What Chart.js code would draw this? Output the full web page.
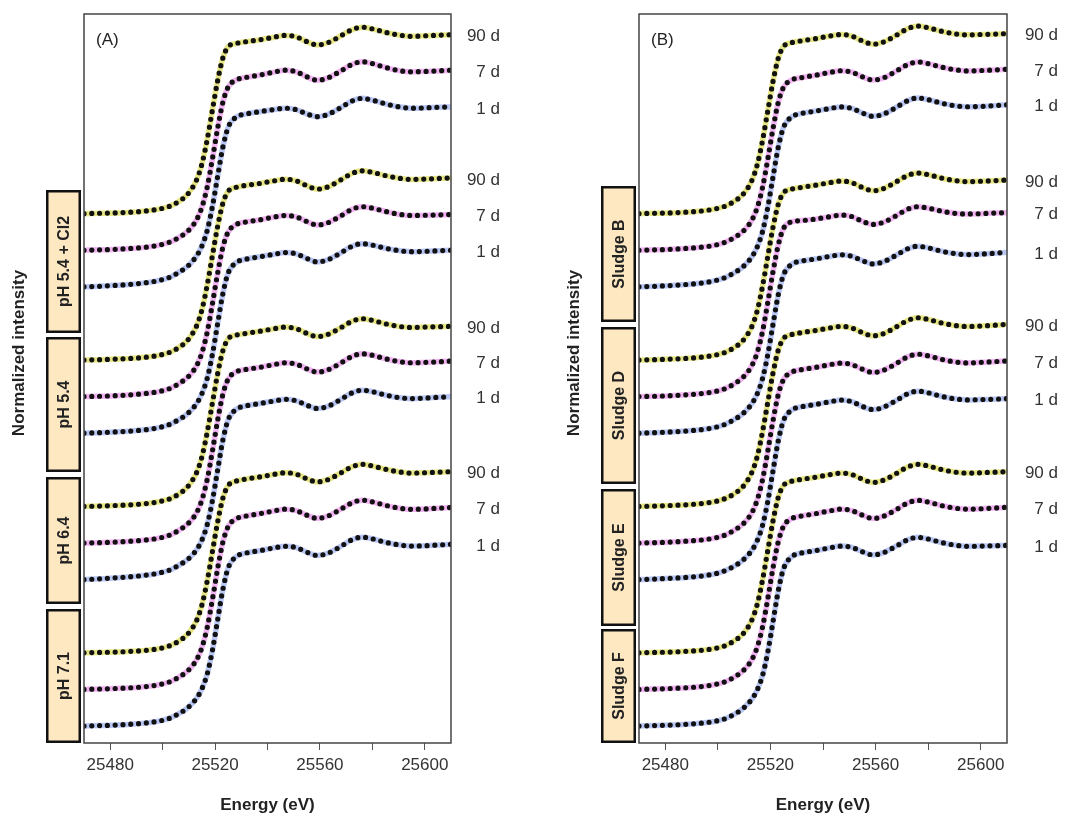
<!DOCTYPE html>
<html>
<head>
<meta charset="utf-8">
<script src="https://cdn.jsdelivr.net/npm/chart.js@4.4.1/dist/chart.umd.min.js"></script>
<style>
  html, body { margin: 0; padding: 0; background: #fff; }
  #wrap { position: relative; width: 1077px; height: 816px; }
  canvas { position: absolute; top: 0; }
  #chartA { left: 0; }
  #chartB { left: 540px; }
</style>
</head>
<body>
<div id="wrap">
  <canvas id="chartA" width="540" height="816"></canvas>
  <canvas id="chartB" width="537" height="816"></canvas>
</div>
<script>
// energy grid (eV) shared by all spectra
const energy = [25470, 25476, 25482, 25488, 25494, 25499, 25503, 25506, 25509, 25511,
  25513, 25515, 25517, 25519, 25521, 25523, 25525, 25528, 25532, 25537,
  25542, 25547, 25551, 25555, 25559, 25563, 25568, 25572, 25576, 25580,
  25585, 25590, 25595, 25600, 25605, 25610];
const xTicks = [25480, 25500, 25520, 25540, 25560, 25580, 25600];
const dayLabels = ['90 d', '7 d', '1 d'];
const groupsA = ['pH 5.4 + Cl2', 'pH 5.4', 'pH 6.4', 'pH 7.1'];
const groupsB = ['Sludge B', 'Sludge D', 'Sludge E', 'Sludge F'];
// vertical stacking of the 12 spectra (top to bottom)
const stackOffsets = [2.8, 2.6, 2.4, 2.0, 1.8, 1.6, 1.2, 1.0, 0.8, 0.4, 0.2, 0.0];

// panel A - normalized intensity
const a1d90 = [0.000, 0.002, 0.004, 0.008, 0.015, 0.026, 0.042, 0.065, 0.098, 0.134, 0.186, 0.272, 0.405, 0.568, 0.728, 0.852, 0.912, 0.930, 0.940, 0.950, 0.963, 0.974, 0.966, 0.940, 0.922, 0.934, 0.972, 1.004, 1.019, 1.010, 0.991, 0.976, 0.969, 0.972, 0.975, 0.978];
const a1d7  = [0.000, 0.002, 0.005, 0.010, 0.017, 0.029, 0.046, 0.068, 0.097, 0.126, 0.168, 0.236, 0.345, 0.500, 0.668, 0.810, 0.892, 0.930, 0.945, 0.957, 0.972, 0.984, 0.975, 0.948, 0.929, 0.942, 0.980, 1.014, 1.030, 1.020, 0.999, 0.982, 0.975, 0.977, 0.980, 0.984];
const a1d1  = [0.000, 0.003, 0.008, 0.014, 0.023, 0.036, 0.054, 0.078, 0.106, 0.134, 0.170, 0.224, 0.308, 0.440, 0.605, 0.765, 0.872, 0.927, 0.945, 0.957, 0.968, 0.976, 0.968, 0.945, 0.930, 0.942, 0.980, 1.014, 1.030, 1.020, 1.000, 0.984, 0.976, 0.978, 0.981, 0.983];
const a2d90 = [0.000, 0.002, 0.005, 0.009, 0.016, 0.027, 0.044, 0.067, 0.100, 0.136, 0.188, 0.275, 0.410, 0.572, 0.732, 0.858, 0.922, 0.944, 0.955, 0.965, 0.978, 0.988, 0.979, 0.953, 0.934, 0.946, 0.985, 1.018, 1.034, 1.026, 1.008, 0.994, 0.987, 0.989, 0.992, 0.995];
const a2d7  = [0.000, 0.002, 0.005, 0.010, 0.018, 0.029, 0.046, 0.069, 0.099, 0.128, 0.170, 0.240, 0.352, 0.508, 0.676, 0.818, 0.900, 0.940, 0.955, 0.966, 0.980, 0.990, 0.982, 0.957, 0.938, 0.950, 0.988, 1.022, 1.038, 1.030, 1.012, 0.997, 0.990, 0.991, 0.993, 0.995];
const a2d1  = [0.000, 0.003, 0.007, 0.012, 0.020, 0.032, 0.050, 0.073, 0.101, 0.128, 0.163, 0.217, 0.300, 0.432, 0.600, 0.764, 0.876, 0.932, 0.952, 0.964, 0.977, 0.987, 0.980, 0.955, 0.936, 0.948, 0.986, 1.020, 1.036, 1.028, 1.011, 0.998, 0.992, 0.994, 0.997, 1.000];
const a3d90 = [0.000, 0.002, 0.005, 0.009, 0.016, 0.027, 0.043, 0.066, 0.099, 0.135, 0.186, 0.272, 0.405, 0.566, 0.726, 0.852, 0.916, 0.936, 0.946, 0.957, 0.970, 0.980, 0.971, 0.946, 0.928, 0.940, 0.977, 1.010, 1.026, 1.017, 0.998, 0.984, 0.978, 0.980, 0.982, 0.984];
const a3d7  = [0.000, 0.002, 0.005, 0.010, 0.017, 0.028, 0.045, 0.068, 0.097, 0.126, 0.167, 0.236, 0.347, 0.503, 0.672, 0.814, 0.896, 0.935, 0.949, 0.960, 0.974, 0.985, 0.977, 0.952, 0.934, 0.946, 0.984, 1.018, 1.034, 1.026, 1.007, 0.992, 0.985, 0.987, 0.990, 0.994];
const a3d1  = [0.000, 0.004, 0.010, 0.016, 0.025, 0.037, 0.054, 0.077, 0.104, 0.130, 0.164, 0.217, 0.300, 0.432, 0.600, 0.764, 0.874, 0.930, 0.950, 0.962, 0.975, 0.985, 0.977, 0.953, 0.935, 0.947, 0.985, 1.019, 1.035, 1.027, 1.009, 0.995, 0.989, 0.992, 0.996, 1.000];
const a4d90 = [0.000, 0.002, 0.004, 0.008, 0.014, 0.024, 0.040, 0.062, 0.094, 0.128, 0.178, 0.262, 0.392, 0.554, 0.716, 0.846, 0.914, 0.938, 0.950, 0.961, 0.974, 0.984, 0.976, 0.951, 0.934, 0.946, 0.983, 1.015, 1.030, 1.021, 1.003, 0.989, 0.982, 0.984, 0.987, 0.990];
const a4d7  = [0.000, 0.002, 0.005, 0.009, 0.016, 0.027, 0.043, 0.065, 0.094, 0.123, 0.163, 0.230, 0.338, 0.492, 0.662, 0.806, 0.890, 0.932, 0.948, 0.960, 0.974, 0.985, 0.977, 0.952, 0.935, 0.947, 0.985, 1.018, 1.034, 1.025, 1.006, 0.991, 0.984, 0.986, 0.990, 0.994];
const a4d1  = [0.000, 0.002, 0.005, 0.010, 0.017, 0.028, 0.044, 0.066, 0.093, 0.119, 0.153, 0.204, 0.284, 0.414, 0.582, 0.748, 0.864, 0.925, 0.946, 0.958, 0.972, 0.982, 0.975, 0.950, 0.932, 0.944, 0.982, 1.016, 1.032, 1.023, 1.004, 0.990, 0.983, 0.985, 0.989, 0.993];

// panel B - normalized intensity
const b1d90 = [0.000, 0.002, 0.004, 0.008, 0.015, 0.026, 0.042, 0.065, 0.097, 0.132, 0.183, 0.268, 0.400, 0.562, 0.724, 0.850, 0.914, 0.934, 0.945, 0.956, 0.969, 0.979, 0.970, 0.944, 0.926, 0.938, 0.976, 1.009, 1.025, 1.016, 0.997, 0.983, 0.977, 0.979, 0.981, 0.984];
const b1d7  = [0.000, 0.002, 0.005, 0.010, 0.017, 0.028, 0.045, 0.067, 0.096, 0.125, 0.166, 0.234, 0.343, 0.498, 0.666, 0.809, 0.891, 0.930, 0.944, 0.956, 0.970, 0.981, 0.973, 0.948, 0.930, 0.942, 0.980, 1.013, 1.029, 1.020, 1.001, 0.987, 0.980, 0.982, 0.985, 0.989];
const b1d1  = [0.000, 0.003, 0.007, 0.013, 0.021, 0.034, 0.052, 0.075, 0.103, 0.130, 0.165, 0.219, 0.302, 0.435, 0.602, 0.764, 0.872, 0.928, 0.948, 0.960, 0.973, 0.983, 0.975, 0.950, 0.932, 0.944, 0.982, 1.016, 1.032, 1.023, 1.004, 0.990, 0.984, 0.986, 0.990, 0.995];
const b2d90 = [0.000, 0.002, 0.005, 0.009, 0.016, 0.027, 0.043, 0.066, 0.098, 0.134, 0.185, 0.271, 0.404, 0.566, 0.727, 0.852, 0.914, 0.934, 0.944, 0.955, 0.968, 0.978, 0.969, 0.943, 0.925, 0.937, 0.975, 1.007, 1.022, 1.013, 0.995, 0.981, 0.975, 0.977, 0.980, 0.984];
const b2d7  = [0.000, 0.002, 0.005, 0.010, 0.017, 0.028, 0.045, 0.068, 0.098, 0.128, 0.171, 0.242, 0.356, 0.515, 0.684, 0.830, 0.920, 0.955, 0.962, 0.970, 0.982, 0.992, 0.984, 0.958, 0.941, 0.953, 0.990, 1.023, 1.038, 1.030, 1.014, 1.002, 0.998, 1.000, 1.003, 1.005];
const b2d1  = [0.000, 0.003, 0.007, 0.012, 0.020, 0.032, 0.050, 0.073, 0.101, 0.128, 0.163, 0.216, 0.299, 0.430, 0.596, 0.758, 0.866, 0.922, 0.941, 0.952, 0.965, 0.975, 0.967, 0.943, 0.925, 0.937, 0.974, 1.007, 1.022, 1.013, 0.995, 0.982, 0.976, 0.979, 0.983, 0.989];
const b3d90 = [0.000, 0.002, 0.005, 0.009, 0.016, 0.027, 0.044, 0.067, 0.100, 0.136, 0.188, 0.274, 0.408, 0.570, 0.730, 0.855, 0.918, 0.939, 0.950, 0.961, 0.974, 0.984, 0.975, 0.950, 0.932, 0.944, 0.982, 1.015, 1.031, 1.022, 1.003, 0.989, 0.983, 0.986, 0.990, 0.995];
const b3d7  = [0.000, 0.002, 0.005, 0.010, 0.017, 0.028, 0.045, 0.068, 0.097, 0.126, 0.167, 0.236, 0.346, 0.502, 0.670, 0.812, 0.894, 0.933, 0.948, 0.959, 0.973, 0.983, 0.975, 0.950, 0.932, 0.944, 0.982, 1.016, 1.032, 1.023, 1.004, 0.990, 0.984, 0.987, 0.991, 0.995];
const b3d1  = [0.000, 0.003, 0.007, 0.012, 0.020, 0.032, 0.050, 0.072, 0.100, 0.127, 0.161, 0.214, 0.296, 0.428, 0.596, 0.760, 0.870, 0.926, 0.945, 0.957, 0.970, 0.981, 0.972, 0.946, 0.929, 0.942, 0.980, 1.014, 1.030, 1.021, 1.002, 0.988, 0.982, 0.984, 0.986, 0.989];
const b4d90 = [0.000, 0.002, 0.004, 0.008, 0.014, 0.024, 0.040, 0.063, 0.095, 0.130, 0.181, 0.266, 0.398, 0.560, 0.722, 0.850, 0.915, 0.937, 0.948, 0.959, 0.972, 0.982, 0.974, 0.949, 0.931, 0.943, 0.981, 1.014, 1.030, 1.021, 1.002, 0.988, 0.982, 0.984, 0.987, 0.990];
const b4d7  = [0.000, 0.002, 0.005, 0.009, 0.016, 0.027, 0.043, 0.065, 0.094, 0.123, 0.164, 0.232, 0.341, 0.496, 0.665, 0.808, 0.892, 0.933, 0.948, 0.960, 0.974, 0.985, 0.977, 0.952, 0.934, 0.946, 0.984, 1.017, 1.033, 1.024, 1.005, 0.991, 0.985, 0.987, 0.991, 0.995];
const b4d1  = [0.000, 0.002, 0.005, 0.009, 0.016, 0.026, 0.041, 0.062, 0.089, 0.115, 0.148, 0.198, 0.276, 0.404, 0.572, 0.740, 0.860, 0.924, 0.946, 0.958, 0.972, 0.983, 0.976, 0.952, 0.935, 0.947, 0.984, 1.016, 1.031, 1.022, 1.003, 0.989, 0.982, 0.983, 0.985, 0.987];

const curvesA = [a1d90, a1d7, a1d1, a2d90, a2d7, a2d1, a3d90, a3d7, a3d1, a4d90, a4d7, a4d1];
const curvesB = [b1d90, b1d7, b1d1, b2d90, b2d7, b2d1, b3d90, b3d7, b3d1, b4d90, b4d7, b4d1];

const FONT = '"Liberation Sans", Arial, sans-serif';
const dayColors = ['rgba(218,216,70,0.65)', 'rgba(232,128,232,0.6)', 'rgba(140,162,236,0.6)'];

function buildDatasets(curves) {
    const sets = [];
    curves.forEach(function(c, i) {
        const pts = energy.map((e, k) => ({ x: e, y: c[k] + stackOffsets[i] }));
        // measured spectrum (coloured)
        sets.push({
            data: pts, borderColor: dayColors[i % 3], borderWidth: 5.5,
            pointRadius: 0, cubicInterpolationMode: 'monotone', order: 1
        });
        // fit (black dots)
        sets.push({
            data: pts, borderColor: '#111', borderWidth: 5.2, borderDash: [0, 7.8],
            borderCapStyle: 'round', borderJoinStyle: 'round',
            pointRadius: 0, cubicInterpolationMode: 'monotone', order: 0
        });
    });
    return sets;
}

function makeChart(id, panel, curves, groups, lay) {
    const deco = {
        id: 'deco' + panel,
        afterDraw(chart) {
            const ctx = chart.ctx, a = chart.chartArea, y = chart.scales.y;
            ctx.save();
            ctx.strokeStyle = '#444';
            ctx.lineWidth = 1.5;
            ctx.strokeRect(a.left, a.top, a.right - a.left, a.bottom - a.top);

            ctx.fillStyle = '#222';
            ctx.font = '17px ' + FONT;
            ctx.textBaseline = 'middle';
            ctx.textAlign = 'left';
            ctx.fillText('(' + panel + ')', a.left + 12, 40);

            // day labels at the end of each spectrum
            ctx.fillStyle = '#333';
            ctx.textAlign = 'right';
            curves.forEach(function(c, i) {
                const py = y.getPixelForValue(c[c.length - 1] + stackOffsets[i]);
                ctx.fillText(dayLabels[i % 3], lay.labelX, py + 2);
            });

            // group boxes
            lay.boxes.forEach(function(b, i) {
                ctx.fillStyle = '#fde8c2';
                ctx.fillRect(lay.boxX, b[0], lay.boxW, b[1] - b[0]);
                ctx.strokeStyle = '#111';
                ctx.lineWidth = 2.5;
                ctx.strokeRect(lay.boxX + 1.25, b[0] + 1.25, lay.boxW - 2.5, b[1] - b[0] - 2.5);
                ctx.save();
                ctx.translate(lay.boxX + lay.boxW / 2 + 1, (b[0] + b[1]) / 2);
                ctx.rotate(-Math.PI / 2);
                ctx.fillStyle = '#222';
                ctx.font = 'bold 16px ' + FONT;
                ctx.textAlign = 'center';
                ctx.fillText(groups[i], 0, 0);
                ctx.restore();
            });

            // axis titles
            ctx.fillStyle = '#222';
            ctx.font = 'bold 17px ' + FONT;
            ctx.textAlign = 'center';
            ctx.fillText('Energy (eV)', (a.left + a.right) / 2, 805);
            ctx.save();
            ctx.translate(lay.titleX, 353);
            ctx.rotate(-Math.PI / 2);
            ctx.fillText('Normalized intensity', 0, 0);
            ctx.restore();
            ctx.restore();
        }
    };

    return new Chart(document.getElementById(id).getContext('2d'), {
        type: 'line',
        data: { datasets: buildDatasets(curves) },
        plugins: [deco],
        options: {
            responsive: false,
            animation: false,
            events: [],
            layout: { padding: { left: lay.left, right: lay.right, top: 14, bottom: 0 } },
            plugins: { legend: { display: false }, tooltip: { enabled: false } },
            scales: {
                x: {
                    type: 'linear', min: 25470, max: 25610,
                    afterFit: function(s) { s.height = 73; },
                    afterBuildTicks: function(s) { s.ticks = xTicks.map(v => ({ value: v })); },
                    ticks: {
                        callback: v => (v % 40 === 0 ? String(v) : ''),
                        font: { family: FONT, size: 17 }, color: '#333',
                        padding: 5, maxRotation: 0, autoSkip: false
                    },
                    grid: { drawOnChartArea: false, drawTicks: true, tickLength: 7, color: '#555' },
                    border: { display: false }
                },
                y: { display: false, min: -0.093, max: 3.891 }
            }
        }
    });
}

document.addEventListener("DOMContentLoaded", function() {
    makeChart('chartA', 'A', curvesA, groupsA, {
        left: 84, right: 89, labelX: 500, titleX: 19, boxX: 46, boxW: 35,
        boxes: [[190, 333], [337, 472], [477, 604], [609, 743]]
    });
    makeChart('chartB', 'B', curvesB, groupsB, {
        left: 99, right: 70, labelX: 518, titleX: 34, boxX: 61, boxW: 35,
        boxes: [[186, 322], [327, 484], [489, 626], [629, 743]]
    });
});
</script>
</body>
</html>
